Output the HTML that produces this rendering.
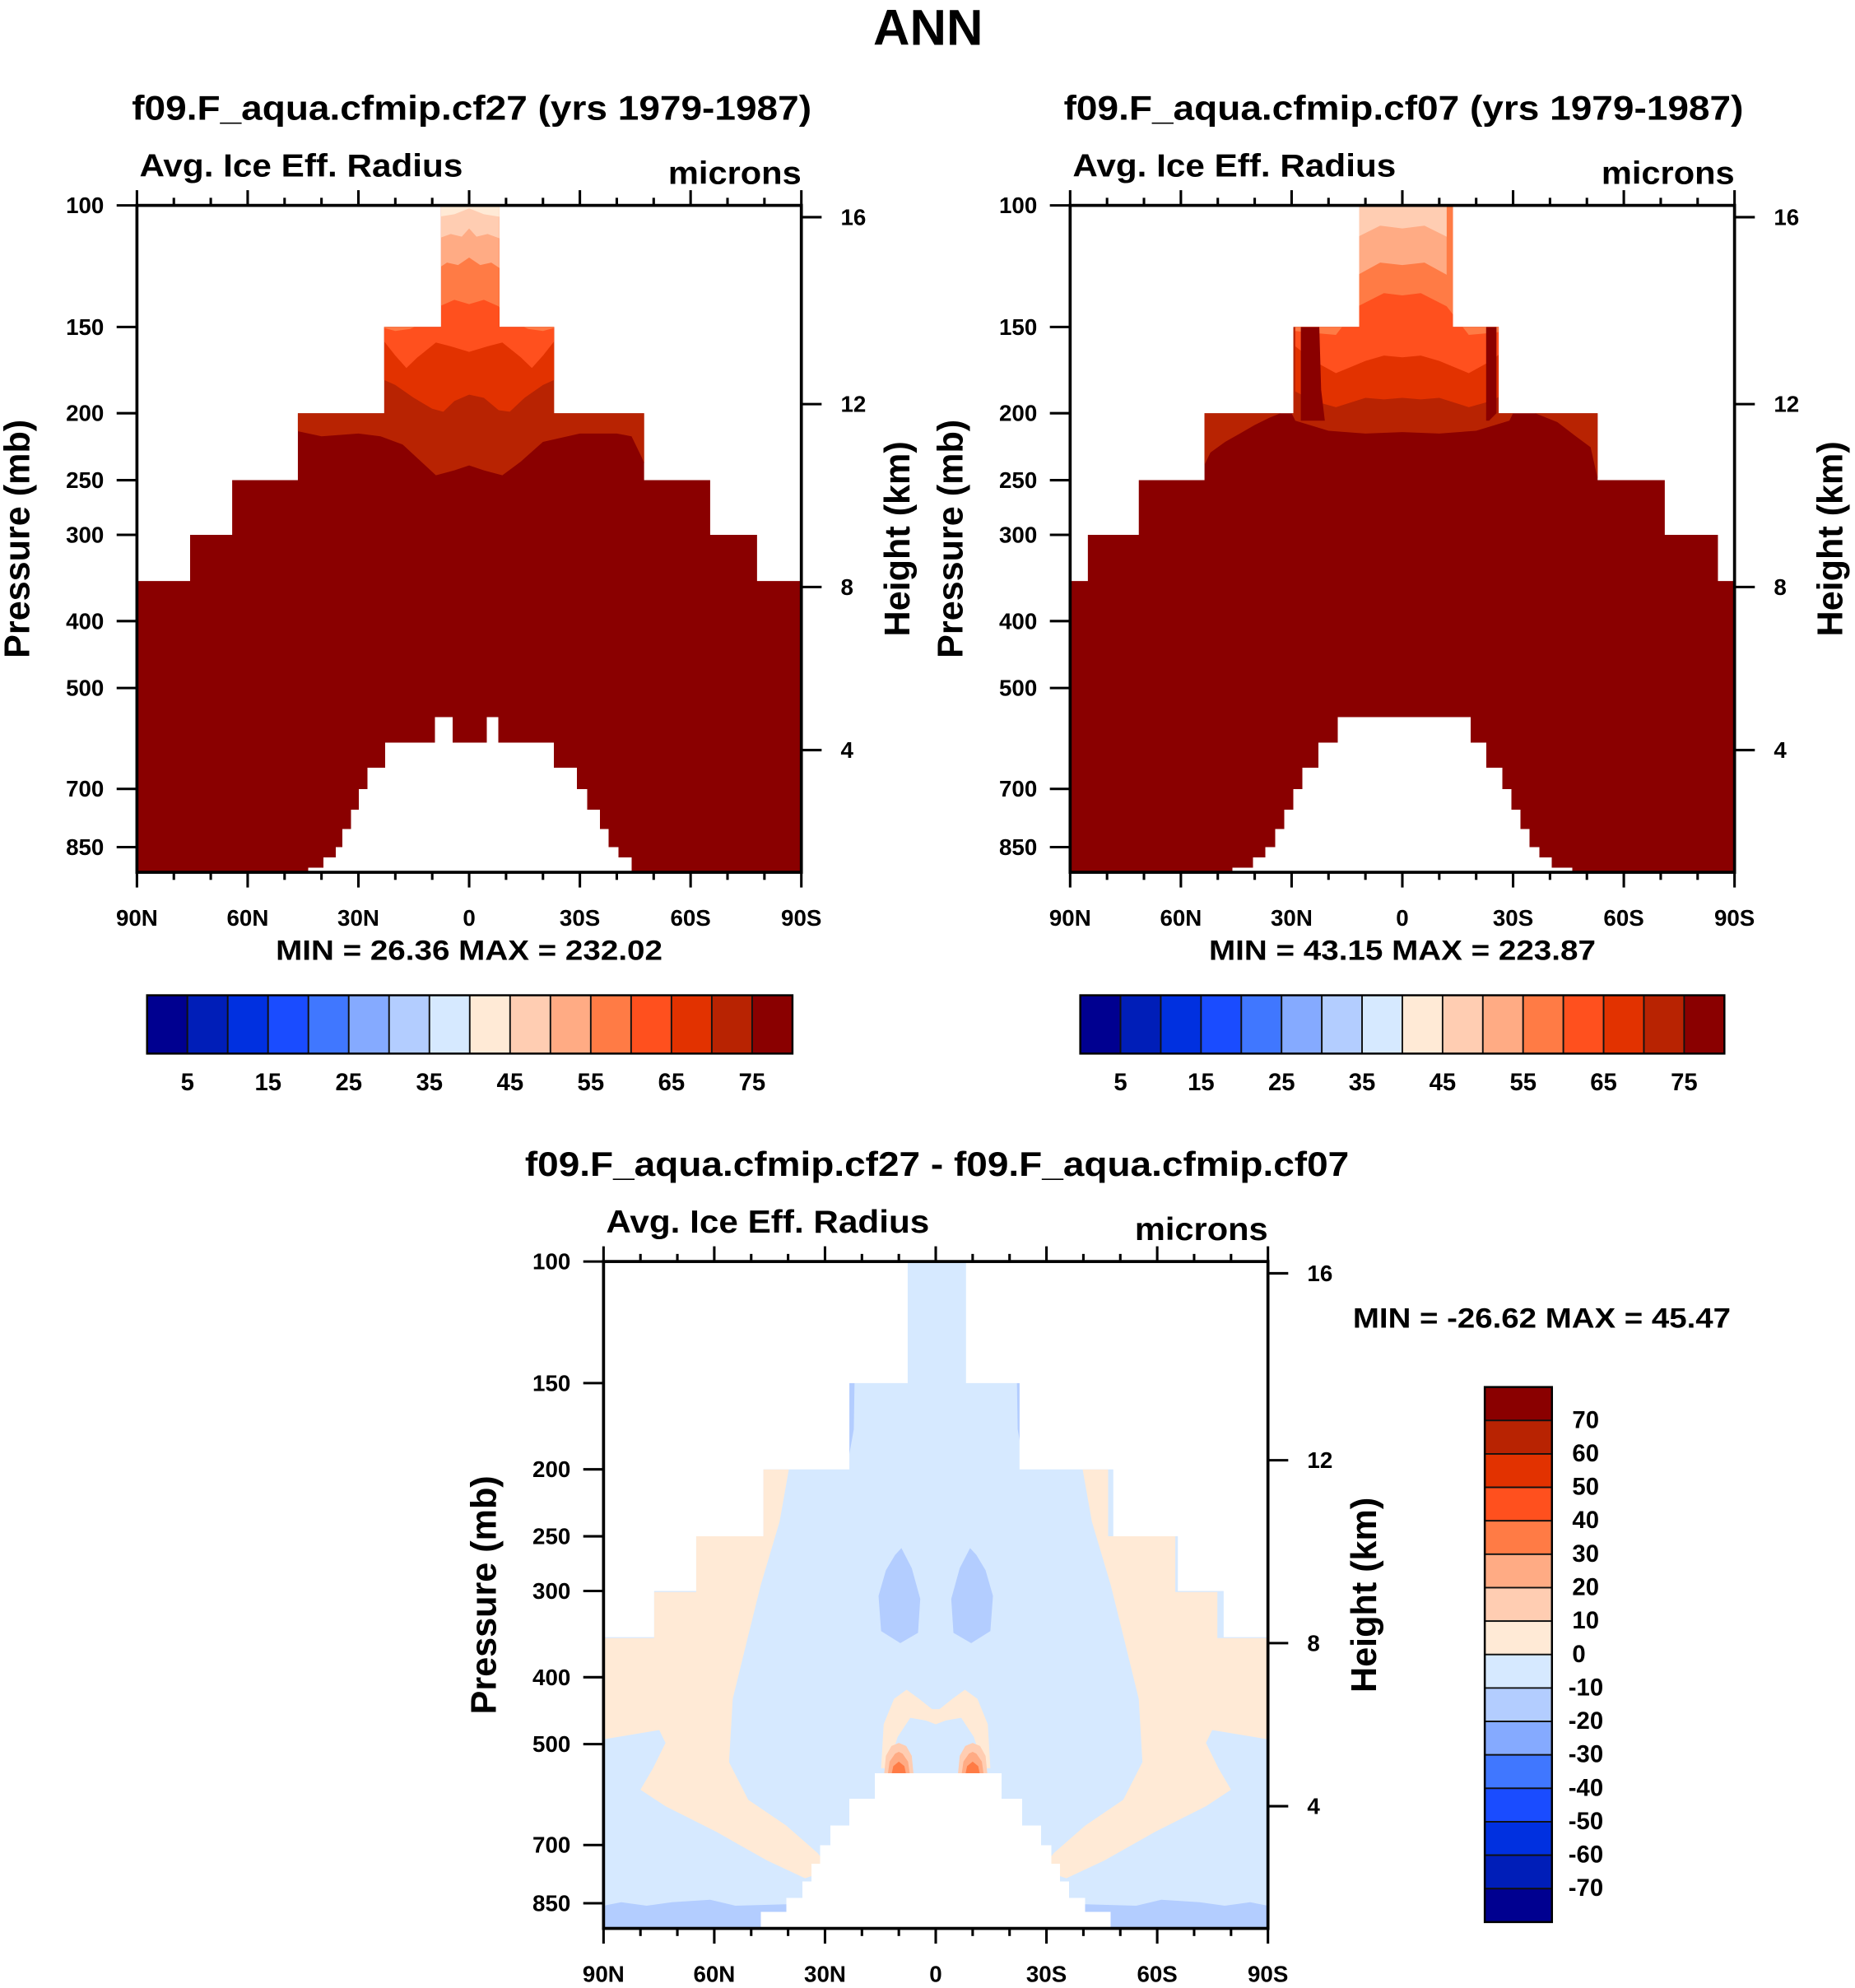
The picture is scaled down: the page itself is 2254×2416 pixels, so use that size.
<!DOCTYPE html>
<html><head><meta charset="utf-8"><style>
html,body{margin:0;padding:0;background:#fff;}
svg{display:block;font-family:"Liberation Sans",sans-serif;font-weight:bold;}
</style></head><body>
<svg id="chart" xmlns="http://www.w3.org/2000/svg" width="2254" height="2416" viewBox="0 0 1463 1568" preserveAspectRatio="none"></svg>
<script>
// ---- data ----
const palette=['#000090','#001eb8','#0030e0','#1a4cff','#4077ff','#85aaff','#b3cdff','#d6e9ff','#ffead6','#ffcdb2','#ffab84','#ff7b45','#ff501e','#e23200','#b82302','#8a0000'];
const cbLabelsAbs=['5','15','25','35','45','55','65','75'];
const cbLabelsDiff=['70','60','50','40','30','20','10','0','-10','-20','-30','-40','-50','-60','-70'];
const latMajor=[90,60,30,0,-30,-60,-90];
const latMajorLabels=['90N','60N','30N','0','30S','60S','90S'];
const latMinor=[80,70,50,40,20,10,-10,-20,-40,-50,-70,-80];
const presTicks=[100,150,200,250,300,400,500,700,850];
const heightLabels=['16','12','8','4'];
const heightPres=[104,194,357,615];

const p1MaskEdges=[90,75.6,64.2,46.4,23,7.6,-8.2,-23,-47.4,-65.3,-78,-90];
const p1MaskTops=[350,300,250,200,150,100,150,200,250,300,350];
const p1SurfEdges=[43.6,39.5,36.1,34.4,32,29.9,27.5,22.7,9.3,4.5,-4.8,-7.9,-23,-29.2,-32,-35.4,-37.8,-40.5,-44];
const p1SurfP=[910,880,850,800,750,700,652,600,551,600,551,600,652,700,750,800,850,880];
const p1Band14=[[47,212],[40,216],[30,214],[24,216],[18,222],[13,235],[9,246],[4,242],[0,238],[-4,242],[-9,246],[-14,235],[-20,220],[-30,214],[-40,214],[-44,216],[-46.8,232],[-48,240]];
const p1Band13=[[24,178],[20,182],[15,190],[10,197],[7,199],[4,192],[0,188],[-4,190],[-8,198],[-11,199],[-15,190],[-20,182],[-24,178]];
const p1Band12=[[24,155],[20,165],[17,172],[14,166],[9,158],[5,160],[0,163],[-5,160],[-9,158],[-14,166],[-17,172],[-20,165],[-24,155]];
const p1Band11=[[24,150],[20,152],[16,151],[10,146],[8,140],[4,137],[0,139],[-4,137],[-8,140],[-10,146],[-16,151],[-20,152],[-24,150]];
const p1Band10=[[9,124],[6,121],[3,122],[0,119],[-3,122],[-6,121],[-9,124]];
const p1Band9=[[9,112],[5,110],[2,111],[0,108],[-2,111],[-5,110],[-9,112]];
const p1Band8=[[9,104],[4,103],[0,101],[-4,103],[-9,104]];

const p2MaskEdges=[90,85.2,71.4,53.6,29.5,11.7,-13.7,-26.1,-52.9,-71.1,-85.5,-90];
const p2MaskTops=[350,300,250,200,150,100,150,200,250,300,350];
const p2SurfEdges=[46,40.5,37.1,34.4,32,29.5,27.1,22.7,17.5,-18.5,-22.7,-27.1,-29.5,-32,-34.4,-37.1,-40.5,-46];
const p2SurfP=[910,880,850,800,750,700,652,600,551,600,652,700,750,800,850,880,910];
const p2Band14=[[54,240],[52,228],[48,220],[44,214],[40,208],[36,203],[33,200],[30,200],[29,205],[20,212],[10,214],[0,213],[-10,214],[-20,212],[-29,205],[-30,200],[-36,200],[-42,206],[-47,216],[-51,224],[-53,250]];
const p2Band13=[[29,186],[24,192],[18,196],[10,190],[5,191],[0,190],[-5,191],[-10,190],[-18,196],[-24,192],[-29,186]];
const p2Band12=[[29,160],[24,168],[18,175],[10,168],[5,165],[0,166],[-5,165],[-10,168],[-18,175],[-24,168],[-29,160]];
const p2Band11=[[29,152],[24,153],[18,154],[12,140],[5,134],[0,135],[-5,134],[-12,140],[-18,154],[-24,153],[-29,152]];
const p2Band10=[[12,126],[6,121],[0,122],[-6,121],[-12,126]];
const p2Band9=[[12,111],[6,107],[0,108],[-6,107],[-12,111]];
const p2DarkCol=[[27.5,150],[22.5,150],[22.0,185],[21.0,205],[27.5,205]];
const p2DarkColR=[[-22.7,150],[-25.5,150],[-25.5,200],[-23.5,205],[-22.7,205]];

const p3MaskEdges=[90,76.3,64.9,46.7,23.4,7.6,-8.2,-22.7,-48.1,-65.6,-78,-90];
const p3MaskTops=[350,300,250,200,150,100,150,200,250,300,350];
const p3SurfEdges=[47.4,40.5,36.1,33.7,31.3,28.5,23.4,16.5,-17.8,-23.4,-28.5,-31.3,-33.7,-36.1,-40.5,-47.4];
const p3SurfP=[875,835,790,745,700,656,600,551,600,656,700,745,790,835,875];
const p3Tan=[[90,351],[76.3,351],[76.3,301],[64.9,301],[64.9,250],[46.7,250],[46.7,200],[39.8,200],[42.3,238],[47.4,294],[50.8,348],[55,430],[56,531],[50.8,602],[40.5,656],[32,719],[28.5,760],[35.4,782],[45.7,737],[59.4,670],[73.2,615],[80,582],[76.6,542],[73.2,498],[74.9,477],[90,492]];
const p3Arch=[[14.8,542],[14.1,468],[11.3,430],[7.9,417],[4.5,430],[1,445],[-1,445],[-4.5,430],[-7.9,417],[-11.3,430],[-14.1,468],[-14.8,542],[-13.1,542],[-10.3,488],[-6.9,458],[-2.7,462],[0,468],[2.7,462],[6.9,458],[10.3,488],[13.1,542]];
const p3Dome1=[[14,554],[13.5,520],[12,503],[10,498],[8,503],[6.5,520],[6,554]];
const p3Dome2=[[13,554],[12.5,530],[11,516],[10,513],[9,516],[7.5,530],[7,554]];
const p3Dome3=[[12,554],[11.5,538],[10,530],[8.5,538],[8,554]];
const p3Blob=[[11,266],[9.3,260],[6.5,278],[4.2,308],[4.8,345],[9.6,357],[14.8,343],[15.5,305],[13.5,280]];
const p3Bottom=[[90,857],[85.2,847],[78.3,857],[71.5,847],[61.1,840],[54.3,857],[40.5,853],[35.4,925],[90,925]];
const p3Streak=[[23.4,150],[22,150],[22.2,175],[23.4,190]];

// ---- helpers ----
const NS='http://www.w3.org/2000/svg';
const svg=document.getElementById('chart');
function mk(tag,attrs,parent){const e=document.createElementNS(NS,tag);for(const k in attrs)e.setAttribute(k,attrs[k]);(parent||svg).appendChild(e);return e;}
function txt(parent,s,x,y,size,anchor,extra){const t=mk('text',Object.assign({x:x,y:y,'font-size':size,'text-anchor':anchor||'middle','dominant-baseline':'central'},extra||{}),parent);t.textContent=s;return t;}
function mirror(a){return a.map(q=>[-q[0],q[1]]);}

function panel(P){
  const X=lat=>P.x0+(90-lat)/180*524;
  const Y=p=>P.y0+544.6*Math.log10(p/100);
  const g=mk('g',{});
  
  
  const defs=mk('defs',{},g);
  const cp=mk('clipPath',{id:P.id+'clip'},defs);
  let d='M'+X(90)+','+Y(925);
  for(let i=0;i<P.maskTops.length;i++){d+=' L'+X(P.maskEdges[i])+','+Y(P.maskTops[i])+' L'+X(P.maskEdges[i+1])+','+Y(P.maskTops[i]);}
  d+=' L'+X(-90)+','+Y(925)+' Z';
  mk('path',{d:d},cp);
  const fg=mk('g',{'clip-path':'url(#'+P.id+'clip)'},g);
  
  
  const base=mk('rect',{x:X(90),y:Y(100),width:524,height:Y(925)-Y(100),fill:P.base},fg);
  
  
  P.bands.forEach(b=>{
    const c=b.curve;
    let s='M'+X(c[0][0])+','+Y(c[0][1]);
    c.forEach(q=>{s+=' L'+X(q[0])+','+Y(q[1]);});
    s+=' L'+X(c[c.length-1][0])+','+Y(90)+' L'+X(c[0][0])+','+Y(90)+' Z';
    const e=mk('path',{d:s,fill:b.color},fg);
    
    
  });
  P.polys.forEach(b=>{
    const s='M'+b.pts.map(q=>X(q[0])+','+Y(q[1])).join(' L')+' Z';
    const e=mk('path',{d:s,fill:b.color},fg);
    
    
  });
  let sd='';
  for(let i=0;i<P.surfP.length;i++){const xa=X(P.surfEdges[i]),xb=X(P.surfEdges[i+1]);sd+='M'+xa+','+Y(P.surfP[i])+' L'+xb+','+Y(P.surfP[i])+' L'+xb+','+Y(930)+' L'+xa+','+Y(930)+' Z ';}
  const surf=mk('path',{d:sd,fill:'#fff','shape-rendering':'crispEdges'},g);
  
  
  const fr=mk('rect',{x:P.x0,y:P.y0,width:524,height:526,fill:'none',stroke:'#000','stroke-width':2.4},g);
  
  
  const tg=mk('g',{stroke:'#000','stroke-width':2},g);
  
  
  const yb=P.y0+526;
  latMajor.forEach((lat,i)=>{
    mk('line',{x1:X(lat),x2:X(lat),y1:P.y0,y2:P.y0-12},tg);
    mk('line',{x1:X(lat),x2:X(lat),y1:yb,y2:yb+12},tg);
    const t=txt(g,latMajorLabels[i],X(lat),yb+36,18);
    
    
  });
  latMinor.forEach(lat=>{
    mk('line',{x1:X(lat),x2:X(lat),y1:P.y0,y2:P.y0-6},tg);
    mk('line',{x1:X(lat),x2:X(lat),y1:yb,y2:yb+6},tg);
  });
  presTicks.forEach(p=>{
    mk('line',{x1:P.x0,x2:P.x0-16,y1:Y(p),y2:Y(p)},tg);
    const t=txt(g,String(p),P.x0-26,Y(p),18,'end');
    
    
  });
  heightPres.forEach((p,i)=>{
    mk('line',{x1:P.x0+524,x2:P.x0+540,y1:Y(p),y2:Y(p)},tg);
    const t=txt(g,heightLabels[i],P.x0+555,Y(p),18,'start');
    
    
  });
  const yt=txt(g,'Pressure (mb)',0,0,28,'middle',{transform:'translate('+(P.x0-94)+','+(P.y0+263)+') rotate(-90)'});
  
  
  const ht=txt(g,'Height (km)',0,0,28,'middle',{transform:'translate('+(P.x0+600)+','+(P.y0+263)+') rotate(-90)'});
  
  
  const vt=txt(g,'Avg. Ice Eff. Radius',P.x0+2,P.y0-31,25,'start',{textLength:255,lengthAdjust:'spacingAndGlyphs'});
  
  
  const un=txt(g,'microns',P.x0+524,P.y0-25,25,'end',{textLength:105,lengthAdjust:'spacingAndGlyphs'});
  
  
  const ti=txt(g,P.title,P.x0+262+P.titleDx,P.y0-77,27,'middle',{textLength:P.titleLen,lengthAdjust:'spacingAndGlyphs'});
  
  
  return g;
}

function hColorbar(x0,y0,w,h,name){
  const g=mk('g',{});
  
  
  const bw=w/palette.length;
  palette.forEach((c,i)=>{
    const r=mk('rect',{x:x0+i*bw,y:y0,width:bw,height:h,fill:c,stroke:'#111','stroke-width':1.2},g);
    
    
  });
  const fr=mk('rect',{x:x0,y:y0,width:w,height:h,fill:'none',stroke:'#000','stroke-width':1.6},g);
  
  
  cbLabelsAbs.forEach((s,k)=>{
    const t=txt(g,s,x0+(2*k+1)*bw,y0+69,19);
    
    
  });
}

// ---- figure ----
const T=txt(svg,'ANN',732,22,40);



panel({id:'p1',name:'panel-cf27',x0:108,y0:162,base:'#8a0000',title:'f09.F_aqua.cfmip.cf27 (yrs 1979-1987)',titleLen:536,titleDx:2,
  maskEdges:p1MaskEdges,maskTops:p1MaskTops,surfEdges:p1SurfEdges,surfP:p1SurfP,
  bands:[{color:palette[14],curve:p1Band14},{color:palette[13],curve:p1Band13},{color:palette[12],curve:p1Band12},{color:palette[11],curve:p1Band11},{color:palette[10],curve:p1Band10},{color:palette[9],curve:p1Band9},{color:palette[8],curve:p1Band8}],
  polys:[]});
panel({id:'p2',name:'panel-cf07',x0:844,y0:162,base:'#8a0000',title:'f09.F_aqua.cfmip.cf07 (yrs 1979-1987)',titleLen:536,titleDx:1,
  maskEdges:p2MaskEdges,maskTops:p2MaskTops,surfEdges:p2SurfEdges,surfP:p2SurfP,
  bands:[{color:palette[14],curve:p2Band14},{color:palette[13],curve:p2Band13},{color:palette[12],curve:p2Band12},{color:palette[11],curve:p2Band11},{color:palette[10],curve:p2Band10},{color:palette[9],curve:p2Band9}],
  polys:[{color:'#8a0000',pts:p2DarkCol},{color:'#8a0000',pts:p2DarkColR}]});
panel({id:'p3',name:'panel-difference',x0:476,y0:995,base:'#d6e9ff',title:'f09.F_aqua.cfmip.cf27 - f09.F_aqua.cfmip.cf07',titleLen:650,titleDx:1,
  maskEdges:p3MaskEdges,maskTops:p3MaskTops,surfEdges:p3SurfEdges,surfP:p3SurfP,
  bands:[],
  polys:[{color:'#ffead6',pts:p3Tan},{color:'#ffead6',pts:mirror(p3Tan)},{color:'#ffead6',pts:p3Arch},
    {color:'#ffcdb2',pts:p3Dome1},{color:'#ffcdb2',pts:mirror(p3Dome1)},
    {color:'#ffab84',pts:p3Dome2},{color:'#ffab84',pts:mirror(p3Dome2)},
    {color:'#ff7b45',pts:p3Dome3},{color:'#ff7b45',pts:mirror(p3Dome3)},
    {color:'#b3cdff',pts:p3Blob},{color:'#b3cdff',pts:mirror(p3Blob)},
    {color:'#b3cdff',pts:p3Bottom},{color:'#b3cdff',pts:mirror(p3Bottom)},
    {color:'#b3cdff',pts:p3Streak},{color:'#b3cdff',pts:mirror(p3Streak)}]});

const m1=txt(svg,'MIN =  26.36   MAX = 232.02',370,750,22,'middle',{'xml:space':'preserve',textLength:305,lengthAdjust:'spacingAndGlyphs'});


const m2=txt(svg,'MIN =  43.15   MAX = 223.87',1106,750,22,'middle',{'xml:space':'preserve',textLength:305,lengthAdjust:'spacingAndGlyphs'});


const m3=txt(svg,'MIN = -26.62   MAX =  45.47',1216,1040,22,'middle',{'xml:space':'preserve',textLength:298,lengthAdjust:'spacingAndGlyphs'});



hColorbar(116,785,509,46,'colorbar-cf27');
hColorbar(852,785,508,46,'colorbar-cf07');

// vertical colorbar (difference)
const vg=mk('g',{});


const vbh=422/palette.length;
palette.slice().reverse().forEach((c,i)=>{
  const r=mk('rect',{x:1171,y:1094+i*vbh,width:53,height:vbh,fill:c,stroke:'#111','stroke-width':1.2},vg);
  
  
});
const vfr=mk('rect',{x:1171,y:1094,width:53,height:422,fill:'none',stroke:'#000','stroke-width':1.6},vg);


cbLabelsDiff.forEach((s,k)=>{
  const t=txt(vg,s,s.startsWith('-')?1237:1240,1094+(k+1)*vbh,19,'start');
  
  
});
</script>
</body></html>
